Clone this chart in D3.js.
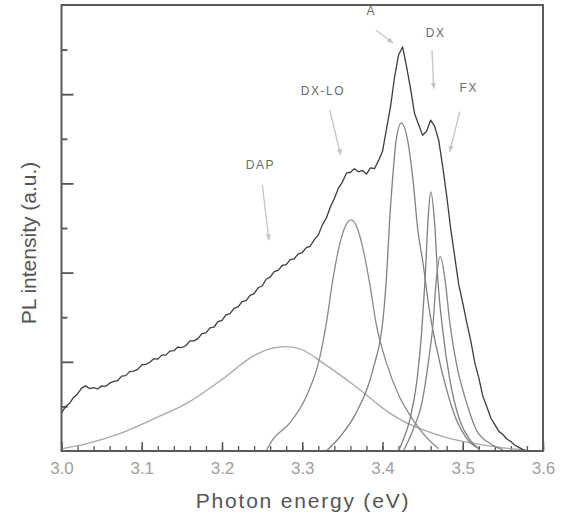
<!DOCTYPE html>
<html>
<head>
<meta charset="utf-8">
<script src="https://cdn.jsdelivr.net/npm/d3@7"></script>
<style>
body{margin:0;background:#fff;}
svg{display:block;font-family:"Liberation Sans",Arial,sans-serif;}
</style>
</head>
<body>
<svg id="chart" width="563" height="516"></svg>
<script>
// measured PL spectrum, read every 0.005 eV starting at 3.000 eV
const specStart = 3.0;
const specStep = 0.005;
const specValues = [
  0.86, 0.99, 1.07, 1.20, 1.28, 1.41, 1.46, 1.40, 1.42, 1.39,
  1.46, 1.45, 1.52, 1.56, 1.58, 1.68, 1.69, 1.78, 1.79, 1.83,
  1.93, 1.94, 1.99, 2.07, 2.06, 2.15, 2.15, 2.24, 2.25, 2.33,
  2.32, 2.36, 2.47, 2.47, 2.52, 2.63, 2.65, 2.76, 2.78, 2.90,
  2.93, 3.05, 3.08, 3.20, 3.23, 3.35, 3.37, 3.49, 3.53, 3.66,
  3.70, 3.85, 3.90, 4.02, 4.05, 4.16, 4.18, 4.29, 4.31, 4.42,
  4.45, 4.56, 4.59, 4.74, 4.84, 5.07, 5.22, 5.47, 5.66, 5.89,
  6.03, 6.23, 6.25, 6.33, 6.26, 6.29, 6.21, 6.35, 6.33, 6.51,
  6.72, 7.22, 7.72, 8.38, 8.88, 9.06, 8.62, 8.12, 7.56, 7.32,
  7.08, 7.17, 7.42, 7.28, 6.97, 6.38, 5.72, 4.98, 4.36, 3.73,
  3.32, 2.88, 2.47, 1.98, 1.64, 1.23, 0.99, 0.74, 0.59, 0.44,
  0.37, 0.27, 0.21, 0.13, 0.08, 0.03, 0.00
];

// fitted components, [energy eV, intensity]
const dapFit = [
  [3.000, 0.05], [3.033, 0.17], [3.074, 0.40], [3.116, 0.73], [3.157, 1.08],
  [3.199, 1.59], [3.241, 2.15], [3.262, 2.30], [3.280, 2.34], [3.300, 2.27],
  [3.326, 1.97], [3.367, 1.44], [3.409, 0.85], [3.430, 0.63], [3.450, 0.48],
  [3.480, 0.30], [3.510, 0.18], [3.550, 0.07], [3.580, 0.02]
];
const dxloFit = [
  [3.255, 0.00], [3.263, 0.25], [3.284, 0.62], [3.305, 1.22], [3.322, 2.11],
  [3.330, 2.86], [3.338, 3.83], [3.347, 4.66], [3.354, 5.05], [3.361, 5.18],
  [3.368, 5.02], [3.376, 4.51], [3.384, 3.76], [3.392, 2.86], [3.405, 1.97],
  [3.421, 1.22], [3.438, 0.70], [3.455, 0.30], [3.470, 0.05]
];
const aFit = [
  [3.330, 0.00], [3.347, 0.32], [3.367, 0.85], [3.388, 1.82], [3.401, 3.01],
  [3.405, 3.90], [3.409, 5.20], [3.413, 6.20], [3.417, 6.97], [3.4235, 7.35],
  [3.432, 6.90], [3.438, 6.08], [3.444, 4.96], [3.4505, 4.21], [3.459, 3.09],
  [3.467, 2.34], [3.480, 1.37], [3.492, 0.70], [3.505, 0.28], [3.520, 0.05]
];
const dxFit = [
  [3.420, 0.00], [3.424, 0.17], [3.434, 0.70], [3.443, 1.59], [3.449, 2.71],
  [3.453, 3.83], [3.457, 5.25], [3.460, 5.81], [3.465, 5.10], [3.469, 3.83],
  [3.475, 2.71], [3.484, 1.59], [3.496, 0.70], [3.509, 0.25], [3.520, 0.05]
];
const fxFit = [
  [3.426, 0.00], [3.438, 0.47], [3.449, 1.07], [3.457, 1.97], [3.463, 2.86],
  [3.467, 3.83], [3.472, 4.36], [3.478, 3.83], [3.484, 2.86], [3.492, 1.97],
  [3.505, 1.07], [3.517, 0.47], [3.534, 0.17], [3.550, 0.03]
];

const xMajorTicks = [3.0, 3.1, 3.2, 3.3, 3.4, 3.5, 3.6];
const yMajorTicks = [2, 4, 6, 8];
const yMinorTicks = [1, 3, 5, 7, 9];

// peak labels: text spot and arrow from/to, in data units
const peakNames = ["A", "DX", "DX-LO", "FX", "DAP"];
const labelAt = [[3.386, 9.87], [3.4663, 9.38], [3.3258, 8.07], [3.5075, 8.14], [3.2479, 6.41]];
const arrowFrom = [[3.392, 9.44], [3.4617, 8.99], [3.3342, 7.65], [3.4963, 7.61], [3.2502, 5.96]];
const arrowTo = [[3.413, 9.15], [3.4638, 8.13], [3.3479, 6.64], [3.4838, 6.71], [3.2585, 4.73]];

const svg = d3.select("#chart");
const x = d3.scaleLinear().domain([3.0, 3.6]).range([61.5, 543]);
const y = d3.scaleLinear().domain([0, 10]).range([451, 5]);

svg.append("defs").append("marker")
  .attr("id", "head")
  .attr("viewBox", "0 0 10 10")
  .attr("refX", 9).attr("refY", 5)
  .attr("markerWidth", 5).attr("markerHeight", 5)
  .attr("orient", "auto")
  .append("path")
  .attr("d", "M0,1 L10,5 L0,9 Z")
  .attr("fill", "#c4c4c4");

// x axis: minor ticks every 0.02, major every 0.1
const xMinor = d3.range(3.0, 3.6001, 0.02).map(v => +v.toFixed(2));
svg.append("g")
  .attr("transform", "translate(0,451)")
  .call(d3.axisBottom(x).tickValues(xMinor).tickSize(-5).tickFormat(""))
  .call(g => g.select(".domain").remove())
  .selectAll("line").attr("stroke", "#555").attr("stroke-width", 1.3);

svg.append("g")
  .attr("transform", "translate(0,451)")
  .call(d3.axisBottom(x).tickValues(xMajorTicks).tickSize(-9).tickPadding(11).tickFormat(d3.format(".1f")))
  .call(g => g.select(".domain").remove())
  .call(g => g.selectAll("line").attr("stroke", "#555").attr("stroke-width", 1.5))
  .call(g => g.selectAll("text")
    .attr("font-size", 17)
    .attr("font-family", "Liberation Sans, Arial, sans-serif")
    .attr("fill", "#a0a0a0"));

svg.append("g")
  .attr("transform", "translate(61.5,0)")
  .call(d3.axisLeft(y).tickValues(yMajorTicks).tickSize(-12).tickFormat(""))
  .call(g => g.select(".domain").remove())
  .selectAll("line").attr("stroke", "#555").attr("stroke-width", 1.8);

svg.append("g")
  .attr("transform", "translate(61.5,0)")
  .call(d3.axisLeft(y).tickValues(yMinorTicks).tickSize(-6).tickFormat(""))
  .call(g => g.select(".domain").remove())
  .selectAll("line").attr("stroke", "#555").attr("stroke-width", 1.8);

// fitted components
const fitLine = d3.line()
  .x(d => x(d[0]))
  .y(d => y(d[1]))
  .curve(d3.curveMonotoneX);

const fits = [
  {pts: dapFit, color: "#a8a8a8"},
  {pts: dxloFit, color: "#8a8a8a"},
  {pts: aFit, color: "#808080"},
  {pts: dxFit, color: "#808080"},
  {pts: fxFit, color: "#858585"}
];
svg.selectAll("path.fit").data(fits).enter().append("path")
  .attr("class", "fit")
  .attr("d", d => fitLine(d.pts))
  .attr("fill", "none")
  .attr("stroke", d => d.color)
  .attr("stroke-width", 1.3);

// measured spectrum
const spec = specValues.map((v, i) => [specStart + i * specStep, v]);
svg.append("path")
  .attr("d", d3.line().x(d => x(d[0])).y(d => y(d[1]))(spec))
  .attr("fill", "none")
  .attr("stroke", "#3c3c3c")
  .attr("stroke-width", 1.3)
  .attr("stroke-linejoin", "round");

// frame
svg.append("rect")
  .attr("x", x(3.0)).attr("y", y(10))
  .attr("width", x(3.6) - x(3.0)).attr("height", y(0) - y(10))
  .attr("fill", "none")
  .attr("stroke", "#5a5a5a")
  .attr("stroke-width", 2);

// peak labels and arrows
peakNames.forEach((name, i) => {
  svg.append("line")
    .attr("x1", x(arrowFrom[i][0])).attr("y1", y(arrowFrom[i][1]))
    .attr("x2", x(arrowTo[i][0])).attr("y2", y(arrowTo[i][1]))
    .attr("stroke", "#c4c4c4")
    .attr("stroke-width", 1.3)
    .attr("marker-end", "url(#head)");
  svg.append("text")
    .attr("x", x(labelAt[i][0])).attr("y", y(labelAt[i][1]))
    .attr("dy", "0.36em")
    .attr("text-anchor", "middle")
    .attr("font-size", 12)
    .attr("letter-spacing", 1.5)
    .attr("fill", "#6a6a6a")
    .text(name);
});

// axis titles
svg.append("text")
  .attr("x", 303).attr("y", 508)
  .attr("text-anchor", "middle")
  .attr("font-size", 21)
  .attr("letter-spacing", 1.8)
  .attr("fill", "#555")
  .text("Photon energy (eV)");

svg.append("text")
  .attr("transform", "translate(36,243) rotate(-90)")
  .attr("text-anchor", "middle")
  .attr("font-size", 21)
  .attr("fill", "#555")
  .text("PL intensity (a.u.)");
</script>
</body>
</html>
